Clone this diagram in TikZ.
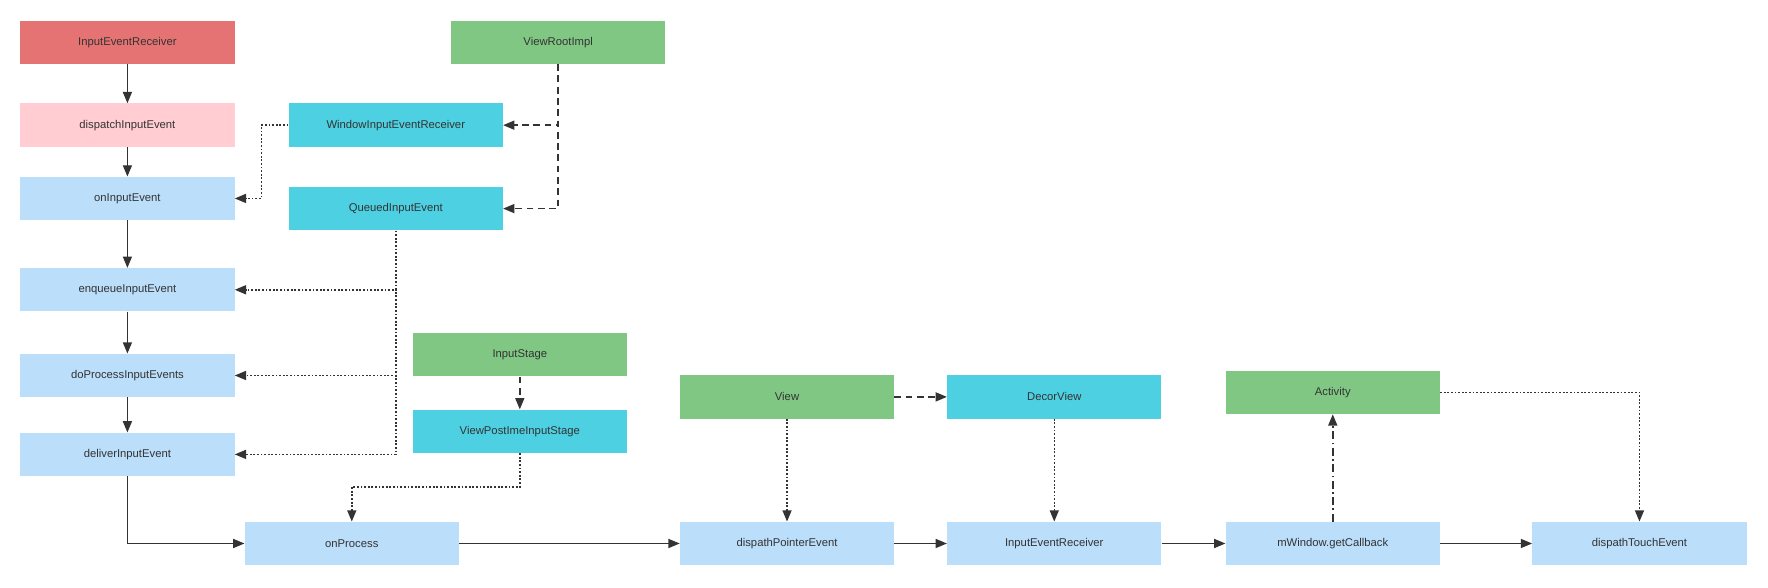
\documentclass[tikz,border=0pt]{standalone}
\usepackage{fontspec}
\setmainfont{Liberation Sans}
\usetikzlibrary{arrows.meta}

\definecolor{recvred}{HTML}{E57373}
\definecolor{dispink}{HTML}{FFCDD2}
\definecolor{callblue}{HTML}{BBDEFB}
\definecolor{classcyan}{HTML}{4DD0E1}
\definecolor{classgreen}{HTML}{81C784}
\definecolor{inkgray}{HTML}{333333}

\tikzset{
    box/.style={rectangle, minimum width=190pt, minimum height=38.5pt, inner sep=0pt,
        text=inkgray, font=\fontsize{10}{12}\selectfont},
    flow/.style={draw=inkgray, line width=1.3pt, -{Triangle[length=10pt,width=8pt]}},
    owns/.style={flow, dash pattern=on 6pt off 4pt},
    uses/.style={flow, dash pattern=on 1.6pt off 1.6pt},
    backref/.style={flow, dash pattern=on 7pt off 3pt on 1.6pt off 3pt}
}

\begin{document}
\begin{tikzpicture}[x=1pt,y=-1pt]

% Define the columns and rows
\def\ColA{113} % left column
\def\ColB{351} % receiver column
\def\RowB{482} % bottom row

\useasboundingbox (0,0) rectangle (1568,520.6);

% Left column of calls
\node[box, fill=recvred]  (ier)  at (\ColA,37.5) {InputEventReceiver};
\node[box, fill=dispink]  (die)  at (\ColA,111)  {dispatchInputEvent};
\node[box, fill=callblue] (oie)  at (\ColA,176)  {onInputEvent};
\node[box, fill=callblue] (enq)  at (\ColA,257)  {enqueueInputEvent};
\node[box, fill=callblue] (dpie) at (\ColA,333)  {doProcessInputEvents};
\node[box, fill=callblue] (dlv)  at (\ColA,403)  {deliverInputEvent};

% Classes at the top
\node[box, fill=classgreen] (vri)  at (495,37.5)   {ViewRootImpl};
\node[box, fill=classcyan]  (wier) at (\ColB,111)  {WindowInputEventReceiver};
\node[box, fill=classcyan]  (qie)  at (\ColB,185)  {QueuedInputEvent};
\node[box, fill=classgreen] (ist)  at (461,314.5)  {InputStage};
\node[box, fill=classcyan]  (vpis) at (461,382.5)  {ViewPostImeInputStage};
\node[box, fill=classgreen] (view) at (698,352)    {View};
\node[box, fill=classcyan]  (dcv)  at (935,352)    {DecorView};
\node[box, fill=classgreen] (act)  at (1182,348)   {Activity};

% Bottom row of calls
\node[box, fill=callblue] (onp)  at (312,\RowB)  {onProcess};
\node[box, fill=callblue] (dpe)  at (698,\RowB)  {dispathPointerEvent};
\node[box, fill=callblue] (ier2) at (935,\RowB)  {InputEventReceiver};
\node[box, fill=callblue] (mwc)  at (1182,\RowB) {mWindow.getCallback};
\node[box, fill=callblue] (dte)  at (1454,\RowB) {dispathTouchEvent};

% Draw the call chain
\draw[flow] (ier) -- (die);
\draw[flow] (die) -- (oie);
\draw[flow] (oie) -- (enq);
\draw[flow] (enq) -- (dpie);
\draw[flow] (dpie) -- (dlv);
\draw[flow] (dlv.south) |- (onp.west);
\draw[flow] (onp) -- (dpe);
\draw[flow] (dpe) -- (ier2);
\draw[flow] (ier2) -- (mwc);
\draw[flow] (mwc) -- (dte);

% Draw the owners
\draw[owns] (vri.south) |- (wier.east);
\draw[owns] (vri.south) |- (qie.east);
\draw[owns] (ist) -- (vpis);
\draw[owns] (view) -- (dcv);

% Draw the users
\draw[uses] (wier.west) -- ++(-24,0) |- (oie.east);
\draw[uses] (qie.south) |- (enq.east);
\draw[uses] (qie.south) |- (dpie.east);
\draw[uses] (qie.south) |- (dlv.east);
\draw[uses] (vpis.south) -- ++(0,30) -| (onp.north);
\draw[uses] (view) -- (dpe);
\draw[uses] (dcv) -- (ier2);
\draw[uses] (act.east) -| (dte.north);

% Callback back to the activity
\draw[backref] (mwc) -- (act);

\end{tikzpicture}
\end{document}
